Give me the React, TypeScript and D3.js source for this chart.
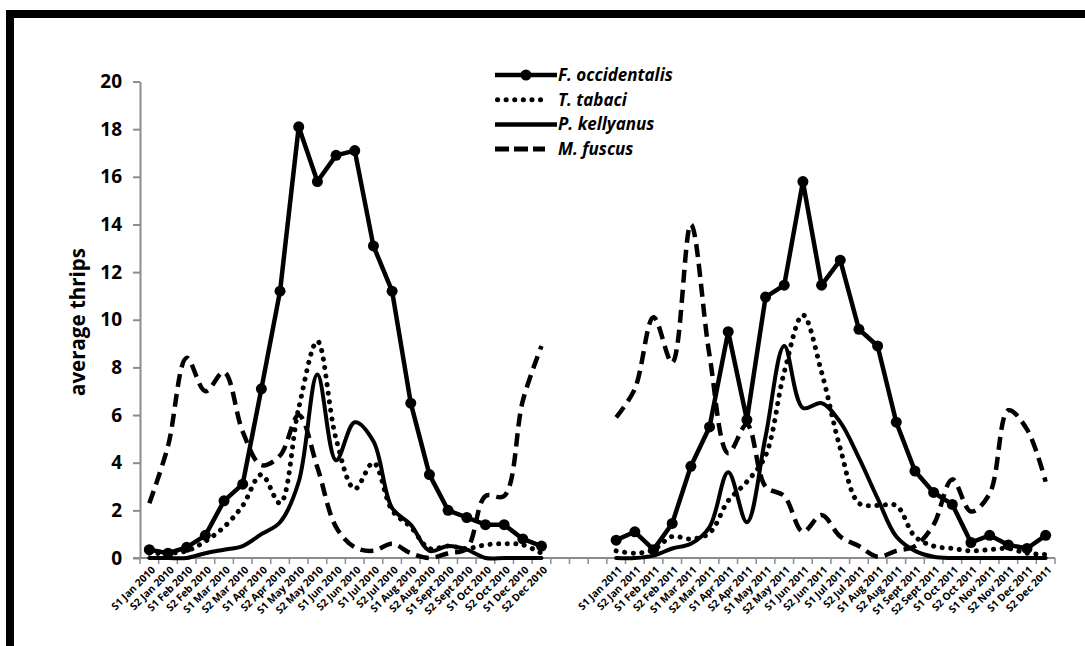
import React, { useRef, useEffect } from 'react';
import * as d3 from 'd3';

// x categories (semi-monthly samples); 2010 has no November samples
const categories2010 = [
  'S1 Jan 2010', 'S2 Jan 2010', 'S1 Feb 2010', 'S2 Feb 2010', 'S1 Mar 2010', 'S2 Mar 2010',
  'S1 Apr 2010', 'S2 Apr 2010', 'S1 May 2010', 'S2 May 2010', 'S1 Jun 2010', 'S2 Jun 2010',
  'S1 Jul 2010', 'S2 Jul 2010', 'S1 Aug 2010', 'S2 Aug 2010', 'S1 Sept 2010', 'S2 Sept 2010',
  'S1 Oct 2010', 'S2 Oct 2010', 'S1 Dec 2010', 'S2 Dec 2010',
];
const gapSlots = ['gap-1', 'gap-2', 'gap-3'];
const categories2011 = [
  'S1 Jan 2011', 'S2 Jan 2011', 'S1 Feb 2011', 'S2 Feb 2011', 'S1 Mar 2011', 'S2 Mar 2011',
  'S1 Apr 2011', 'S2 Apr 2011', 'S1 May 2011', 'S2 May 2011', 'S1 Jun 2011', 'S2 Jun 2011',
  'S1 Jul 2011', 'S2 Jul 2011', 'S1 Aug 2011', 'S2 Aug 2011', 'S1 Sept 2011', 'S2 Sept 2011',
  'S1 Oct 2011', 'S2 Oct 2011', 'S1 Nov 2011', 'S2 Nov 2011', 'S1 Dec 2011', 'S2 Dec 2011',
];

const yTicks = [0, 2, 4, 6, 8, 10, 12, 14, 16, 18, 20];

// F. occidentalis
const fOcc2010 = [0.35, 0.2, 0.45, 0.95, 2.4, 3.1, 7.1, 11.2, 18.1, 15.8, 16.9, 17.1, 13.1, 11.2, 6.5, 3.5, 2.0, 1.7, 1.4, 1.4, 0.8, 0.5];
const fOcc2011 = [0.75, 1.1, 0.35, 1.45, 3.85, 5.5, 9.5, 5.8, 10.95, 11.45, 15.8, 11.45, 12.5, 9.6, 8.9, 5.7, 3.65, 2.75, 2.25, 0.65, 0.95, 0.55, 0.4, 0.95];
// T. tabaci
const tTab2010 = [0.2, 0.2, 0.3, 0.7, 1.3, 2.2, 3.5, 2.3, 6.3, 9.1, 5.0, 2.9, 4.0, 2.0, 1.3, 0.4, 0.5, 0.4, 0.55, 0.6, 0.55, 0.2];
const tTab2011 = [0.3, 0.2, 0.35, 0.9, 0.8, 1.05, 2.4, 3.2, 4.3, 7.8, 10.2, 7.8, 4.6, 2.3, 2.2, 2.2, 0.9, 0.5, 0.4, 0.3, 0.35, 0.4, 0.2, 0.15];
// P. kellyanus
const pKel2010 = [0, 0, 0, 0.2, 0.35, 0.5, 1.0, 1.5, 3.2, 7.7, 4.1, 5.7, 4.9, 2.1, 1.4, 0.3, 0.5, 0.35, 0, 0, 0, 0];
const pKel2011 = [0, 0, 0.1, 0.4, 0.6, 1.3, 3.6, 1.5, 5.1, 8.9, 6.3, 6.5, 5.7, 4.2, 2.5, 0.9, 0.3, 0.05, 0, 0, 0, 0, 0, 0];
// M. fuscus
const mFus2010 = [2.3, 4.7, 8.4, 7.0, 7.8, 5.3, 3.9, 4.3, 6.0, 3.8, 1.3, 0.45, 0.3, 0.6, 0.2, 0.0, 0.2, 0.4, 2.6, 2.6, 6.6, 8.9];
const mFus2011 = [5.9, 7.1, 10.1, 8.2, 14.0, 8.5, 4.4, 5.6, 3.0, 2.6, 1.1, 1.8, 0.9, 0.5, 0.05, 0.3, 0.5, 1.4, 3.3, 1.95, 2.7, 6.2, 5.4, 3.2];

const seriesNames = ['F. occidentalis', 'T. tabaci', 'P. kellyanus', 'M. fuscus'];

const FONT = '"Open Sans", Lato, sans-serif';
const AXIS_GREY = '#8c8c8c';

const App = () => {
  const svgRef = useRef(null);

  useEffect(() => {
    const svg = d3.select(svgRef.current);
    svg.selectAll('*').remove();

    const width = 1085;
    const height = 646;
    const left = 140;
    const right = 1055;
    const bottom = 558;
    const top = 81.5;

    svg.append('rect').attr('width', width).attr('height', height).attr('fill', '#fff');

    // thick picture frame (right/bottom edges fall outside the crop)
    svg.append('rect')
      .attr('x', 10).attr('y', 14)
      .attr('width', width + 20).attr('height', height + 20)
      .attr('fill', 'none').attr('stroke', '#000').attr('stroke-width', 8);

    const x = d3.scaleBand()
      .domain([...categories2010, ...gapSlots, ...categories2011])
      .range([left, right]);
    const y = d3.scaleLinear().domain([0, 20]).range([bottom, top]);
    const cx = (d) => x(d) + x.bandwidth() / 2;

    // y axis
    const yAxis = svg.append('g')
      .attr('transform', `translate(${left},0)`)
      .call(d3.axisLeft(y).tickValues(yTicks).tickSize(7).tickPadding(11).tickSizeOuter(0));
    yAxis.select('.domain').attr('stroke', AXIS_GREY).attr('stroke-width', 2);
    yAxis.selectAll('.tick line').attr('stroke', AXIS_GREY).attr('stroke-width', 2);
    yAxis.selectAll('.tick text')
      .attr('font-family', FONT).attr('font-weight', 700).attr('font-size', 19).attr('fill', '#000');

    // x axis: line, ticks between categories, rotated labels
    const xAxis = svg.append('g');
    xAxis.append('line')
      .attr('x1', left - 7).attr('x2', right)
      .attr('y1', bottom).attr('y2', bottom)
      .attr('stroke', AXIS_GREY).attr('stroke-width', 2);
    const bounds = [...x.domain().map(d => x(d)), right];
    xAxis.selectAll('.xtick')
      .data(bounds)
      .enter()
      .append('line')
      .attr('x1', d => d).attr('x2', d => d)
      .attr('y1', bottom).attr('y2', bottom + 6)
      .attr('stroke', AXIS_GREY).attr('stroke-width', 1.5);
    xAxis.selectAll('.xlabel')
      .data([...categories2010, ...categories2011])
      .enter()
      .append('text')
      .attr('transform', d => `translate(${cx(d) + 4},${bottom + 10}) rotate(-45)`)
      .attr('text-anchor', 'end')
      .attr('dy', '0.35em')
      .attr('font-family', FONT).attr('font-weight', 700).attr('font-size', 10.3)
      .attr('fill', '#000')
      .text(d => d);

    // y axis title
    svg.append('text')
      .attr('transform', `translate(85,322) rotate(-90)`)
      .attr('text-anchor', 'middle')
      .attr('font-family', FONT).attr('font-weight', 700).attr('font-size', 20.5)
      .text('average thrips');

    const straight = d3.line().x(d => cx(d.c)).y(d => y(d.v));
    const smooth = d3.line().x(d => cx(d.c)).y(d => y(d.v)).curve(d3.curveCatmullRom.alpha(0.5));

    const pair = (cats, vals) => cats.map((c, i) => ({ c, v: vals[i] }));

    const styles = {
      dashed: { dash: '13 7', cap: 'butt', w: 4.5 },
      dotted: { dash: '0.1 8.5', cap: 'round', w: 5 },
      solid: { dash: null, cap: 'round', w: 4 },
    };

    const drawSeries = (data, gen, st) => {
      svg.append('path')
        .attr('d', gen(data))
        .attr('fill', 'none')
        .attr('stroke', '#000')
        .attr('stroke-width', st.w)
        .attr('stroke-linecap', st.cap)
        .attr('stroke-linejoin', 'round')
        .attr('stroke-dasharray', st.dash);
    };

    [[categories2010, mFus2010], [categories2011, mFus2011]].forEach(([c, v]) => drawSeries(pair(c, v), smooth, styles.dashed));
    [[categories2010, tTab2010], [categories2011, tTab2011]].forEach(([c, v]) => drawSeries(pair(c, v), smooth, styles.dotted));
    [[categories2010, pKel2010], [categories2011, pKel2011]].forEach(([c, v]) => drawSeries(pair(c, v), smooth, styles.solid));

    [[categories2010, fOcc2010], [categories2011, fOcc2011]].forEach(([c, v]) => {
      const data = pair(c, v);
      drawSeries(data, straight, { dash: null, cap: 'round', w: 4.5 });
      svg.append('g').selectAll('circle')
        .data(data)
        .enter()
        .append('circle')
        .attr('cx', d => cx(d.c))
        .attr('cy', d => y(d.v))
        .attr('r', 5.5)
        .attr('fill', '#000');
    });

    // legend
    const legend = svg.append('g').attr('transform', 'translate(495,75)');
    const rowGap = 24.7;
    const samples = [
      { x2: 62, dash: null, cap: 'butt', w: 4.5, marker: true },
      { x2: 53, dash: '0.1 8.5', cap: 'round', w: 5, marker: false },
      { x2: 62, dash: null, cap: 'butt', w: 4.5, marker: false },
      { x2: 50, dash: '14 5', cap: 'butt', w: 5, marker: false },
    ];
    seriesNames.forEach((name, i) => {
      const s = samples[i];
      const row = legend.append('g').attr('transform', `translate(0,${i * rowGap})`);
      row.append('line')
        .attr('x1', s.cap === 'round' ? 2.5 : 0).attr('x2', s.x2)
        .attr('y1', 0).attr('y2', 0)
        .attr('stroke', '#000').attr('stroke-width', s.w)
        .attr('stroke-linecap', s.cap)
        .attr('stroke-dasharray', s.dash);
      if (s.marker) row.append('circle').attr('cx', 31).attr('cy', 0).attr('r', 5.5).attr('fill', '#000');
      row.append('text')
        .attr('x', 63).attr('y', 0).attr('dy', '0.35em')
        .attr('font-family', FONT).attr('font-weight', 700).attr('font-style', 'italic')
        .attr('font-size', 17)
        .text(name);
    });
  }, []);

  return (
    <svg
      ref={svgRef}
      width={1085}
      height={646}
      style={{ position: 'absolute', left: 0, top: 0, display: 'block' }}
    />
  );
};

export default App;
